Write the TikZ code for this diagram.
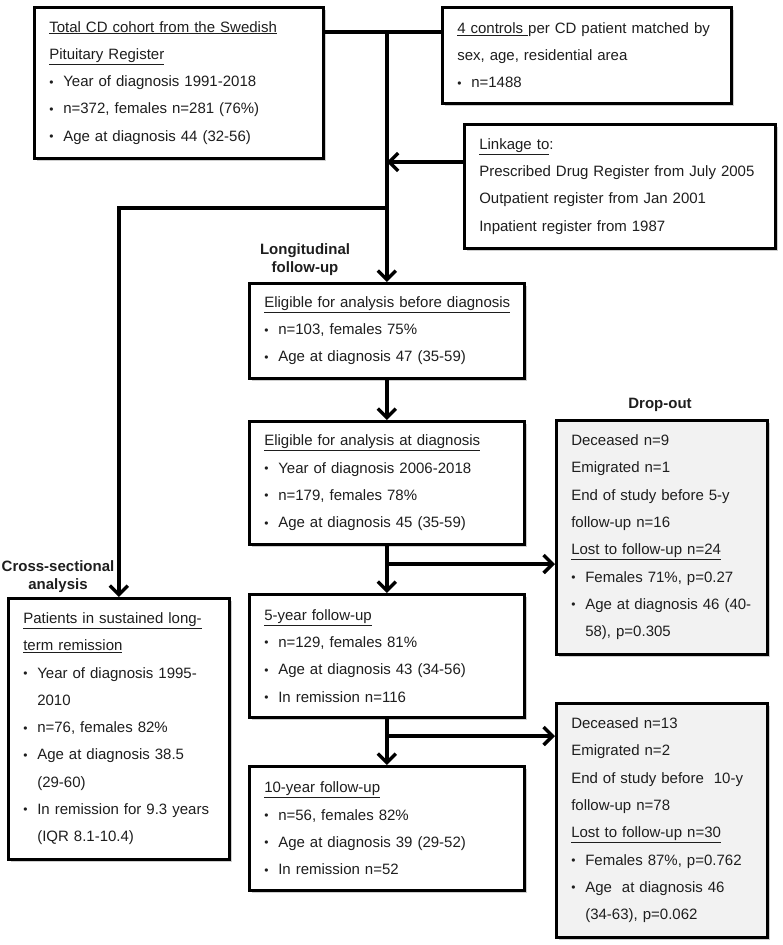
\documentclass[tikz,border=0pt]{standalone}
\usepackage{fontspec}
\setmainfont{Liberation Sans}
\usetikzlibrary{arrows.meta,shadows,calc}
\newcommand{\bl}[1]{\mbox{\makebox[14pt][l]{\raisebox{0.6pt}{\fontsize{12}{12}\selectfont •}}#1}}
\newcommand{\cl}[1]{\mbox{\hspace*{14pt}#1}}
\newcommand{\pl}[1]{\mbox{#1}}
\newcommand{\hd}[1]{\underline{#1}}
\definecolor{dropgray}{HTML}{F2F2F2}
\definecolor{txt}{HTML}{1E1E1E}
\begin{document}
\begin{tikzpicture}[x=1pt,y=-1pt,
  box/.style={draw=black, line width=2.6pt, anchor=north west, align=left,
    inner xsep=15pt, inner ysep=0pt, fill=white, text=txt,
    font=\fontsize{15}{27.3}\selectfont,
    drop shadow={shadow xshift=3pt, shadow yshift=-3pt, fill=black!35, opacity=0.55}},
  dropbox/.style={box, fill=dropgray},
  lbl/.style={align=center, inner sep=0pt, text=txt,
    font=\fontsize{15}{18}\selectfont\bfseries},
  conn/.style={draw=black, line width=3.4pt},
  arr/.style={-{Straight Barb[length=9pt,width=18pt]}}
]
\useasboundingbox (0,0) rectangle (782,945);

% boxes
\node[box, minimum width=289pt, minimum height=151pt, text width=259pt] (cohort) at (33,6)
 {\hd{Total CD cohort from the Swedish}\\
  \hd{Pituitary Register}\\
  \bl{Year of diagnosis 1991-2018}\\
  \bl{n=372, females n=281 (76\%)}\\
  \bl{Age at diagnosis 44 (32-56)}};

\node[box, minimum width=289pt, minimum height=96pt, text width=259pt] (controls) at (441,6)
 {\pl{\hd{4 controls }per CD patient matched by}\\
  \pl{sex, age, residential area}\\
  \bl{n=1488}};

\node[box, minimum width=311pt, minimum height=124pt, text width=281pt] (linkage) at (463,123)
 {\pl{\hd{Linkage to}:}\\
  \pl{Prescribed Drug Register from July 2005}\\
  \pl{Outpatient register from Jan 2001}\\
  \pl{Inpatient register from 1987}};

\node[box, minimum width=275pt, minimum height=95pt, text width=245pt] (before) at (248,282)
 {\hd{Eligible for analysis before diagnosis}\\
  \bl{n=103, females 75\%}\\
  \bl{Age at diagnosis 47 (35-59)}};

\node[box, minimum width=275pt, minimum height=123pt, text width=245pt] (atdiag) at (248,420)
 {\hd{Eligible for analysis at diagnosis}\\
  \bl{Year of diagnosis 2006-2018}\\
  \bl{n=179, females 78\%}\\
  \bl{Age at diagnosis 45 (35-59)}};

\node[box, minimum width=275pt, minimum height=123pt, text width=245pt] (fu5) at (248,593)
 {\hd{5-year follow-up}\\
  \bl{n=129, females 81\%}\\
  \bl{Age at diagnosis 43 (34-56)}\\
  \bl{In remission n=116}};

\node[box, minimum width=275pt, minimum height=124pt, text width=245pt] (fu10) at (248,765)
 {\hd{10-year follow-up}\\
  \bl{n=56, females 82\%}\\
  \bl{Age at diagnosis 39 (29-52)}\\
  \bl{In remission n=52}};

\node[box, minimum width=221pt, minimum height=261pt, text width=191pt] (cross) at (7,597)
 {\hd{Patients in sustained long-}\\
  \hd{term remission}\\
  \bl{Year of diagnosis 1995-}\\
  \cl{2010}\\
  \bl{n=76, females 82\%}\\
  \bl{Age at diagnosis 38.5}\\
  \cl{(29-60)}\\
  \bl{In remission for 9.3 years}\\
  \cl{(IQR 8.1-10.4)}};

\node[dropbox, minimum width=211pt, minimum height=234pt, text width=181pt] (drop1) at (555,419)
 {\pl{Deceased n=9}\\
  \pl{Emigrated n=1}\\
  \pl{End of study before 5-y}\\
  \pl{follow-up n=16}\\
  \hd{Lost to follow-up n=24}\\
  \bl{Females 71\%, p=0.27}\\
  \bl{Age at diagnosis 46 (40-}\\
  \cl{58), p=0.305}};

\node[dropbox, minimum width=211pt, minimum height=234pt, text width=181pt] (drop2) at (555,702)
 {\pl{Deceased n=13}\\
  \pl{Emigrated n=2}\\
  \pl{End of study before \ 10-y}\\
  \pl{follow-up n=78}\\
  \hd{Lost to follow-up n=30}\\
  \bl{Females 87\%, p=0.762}\\
  \bl{Age \ at diagnosis 46}\\
  \cl{(34-63), p=0.062}};

% labels
\node[lbl] (lon) at (305,260) {Longitudinal\\follow-up};
\node[lbl] (dro) at (660,405) {Drop-out};
\node[lbl] (crs) at (58,577) {Cross-sectional\\analysis};

% connectors
\coordinate (jtop) at (before.north |- 0,32);
\coordinate (jb) at (before.north |- 0,208);
\draw[conn] (cohort.east |- jtop) -- (controls.west |- jtop);
\draw[conn,arr] (jtop) -- (before.north);
\draw[conn,arr] (linkage.west |- 0,162) -- (jtop |- 0,162);
\draw[conn,arr] (jb) -| (cross.north);
\draw[conn,arr] (before.south) -- (atdiag.north);
\draw[conn,arr] (atdiag.south) -- (fu5.north);
\draw[conn,arr] (atdiag.south |- 0,564) -- (drop1.west |- 0,564);
\draw[conn,arr] (fu5.south) -- (fu10.north);
\draw[conn,arr] (fu5.south |- 0,736) -- (drop2.west |- 0,736);
\end{tikzpicture}
\end{document}
